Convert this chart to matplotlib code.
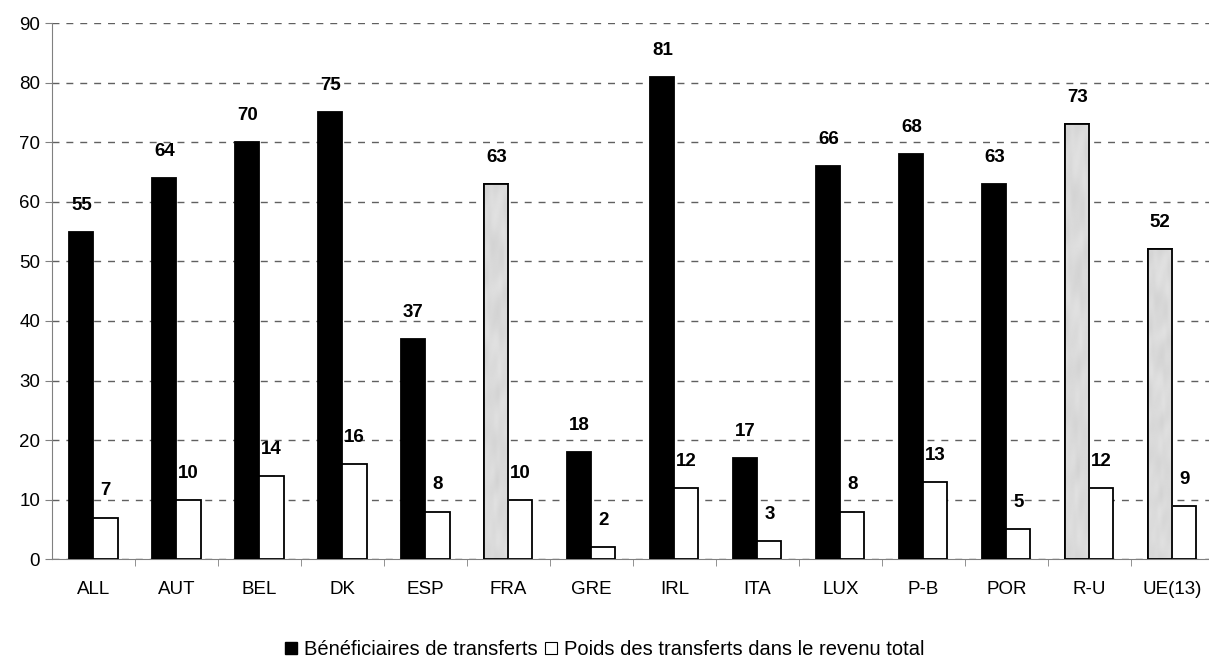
import numpy as np
import matplotlib.pyplot as plt
from matplotlib.lines import Line2D

# Countries and the two series (in %)
pays = ['ALL', 'AUT', 'BEL', 'DK', 'ESP', 'FRA', 'GRE', 'IRL', 'ITA', 'LUX',
        'P-B', 'POR', 'R-U', 'UE(13)']
beneficiaires = [55, 64, 70, 75, 37, 63, 18, 81, 17, 66, 68, 63, 73, 52]
poids = [7, 10, 14, 16, 8, 10, 2, 12, 3, 8, 13, 5, 12, 9]

# Countries drawn with the grey marble fill instead of black
grises = ['FRA', 'R-U', 'UE(13)']

plt.rcParams['font.family'] = ['Liberation Sans', 'DejaVu Sans']


def marbre(nx=30, ny=500):
    """ Soft grey marble-like texture built from a few sine waves """
    u, v = np.meshgrid(np.linspace(0, 1, nx), np.linspace(0, 1, ny))
    t = (np.sin(9 * v + 4 * u + 2.5 * np.sin(23 * v))
         + 0.6 * np.sin(31 * v - 7 * u + 1.3 * np.sin(11 * u + 5 * v))
         + 0.4 * np.sin(57 * v + 13 * u))
    return 0.88 - 0.05 * (t - t.min()) / (t.max() - t.min())


def main():
    fig = plt.figure(figsize=(12.09, 6.61), dpi=100)
    ax = fig.add_axes([0.043, 0.154, 0.961, 0.811])

    x = np.arange(len(pays))
    w = 0.29

    couleurs = ['#dedede' if p in grises else 'black' for p in pays]
    b1 = ax.bar(x - w / 2, beneficiaires, w, color=couleurs,
                edgecolor='black', linewidth=1.3, zorder=3)
    b2 = ax.bar(x + w / 2, poids, w, color='white',
                edgecolor='black', linewidth=1.3, zorder=3)

    # Marble texture inside the grey bars
    for rect, p in zip(b1, pays):
        if p in grises:
            x0 = rect.get_x()
            im = ax.imshow(marbre(), cmap='gray', vmin=0, vmax=1,
                           extent=(x0, x0 + rect.get_width(), 0,
                                   rect.get_height()),
                           aspect='auto', interpolation='bilinear',
                           zorder=3.5)
            im.set_clip_path(rect)
            ax.bar(rect.get_x() + rect.get_width() / 2, rect.get_height(),
                   rect.get_width(), color='none', edgecolor='black',
                   linewidth=1.3, zorder=3.6)

    # Value labels above each bar
    for bars, vals in ((b1, beneficiaires), (b2, poids)):
        for rect, v in zip(bars, vals):
            ax.annotate(str(v), (rect.get_x() + rect.get_width() / 2, v),
                        xytext=(0, 13), textcoords='offset points',
                        ha='center', va='bottom', fontsize=13.5,
                        fontweight='bold', zorder=4)

    ax.set_xlim(-0.5, len(pays) - 0.5)
    ax.set_ylim(0, 90)
    ax.set_yticks(range(0, 91, 10))
    ax.yaxis.grid(True, linestyle=(0, (5, 5)), color='#606060',
                  linewidth=1, zorder=0)

    ax.set_xticks(x)
    ax.set_xticklabels(pays)
    ax.set_xticks(np.arange(len(pays)) + 0.5, minor=True)
    ax.tick_params(axis='x', which='major', length=0, pad=16, labelsize=13.5)
    ax.tick_params(axis='x', which='minor', length=5, color='#808080')
    ax.tick_params(axis='y', length=5, color='#808080', labelsize=13.5)

    for s in ('top', 'right'):
        ax.spines[s].set_visible(False)
    for s in ('left', 'bottom'):
        ax.spines[s].set_color('#808080')

    handles = [
        Line2D([], [], marker='s', linestyle='none', markersize=8,
               markerfacecolor='black', markeredgecolor='black'),
        Line2D([], [], marker='s', linestyle='none', markersize=8,
               markerfacecolor='white', markeredgecolor='black',
               markeredgewidth=0.8),
    ]
    fig.legend(handles, ['Bénéficiaires de transferts',
                         'Poids des transferts dans le revenu total'],
               loc='center', bbox_to_anchor=(0.5, 0.017), ncol=2,
               frameon=False, fontsize=14.5, handlelength=0.7,
               handletextpad=0.3, columnspacing=0.3)

    fig.savefig('out.png', dpi=100)


if __name__ == "__main__":
    main()
